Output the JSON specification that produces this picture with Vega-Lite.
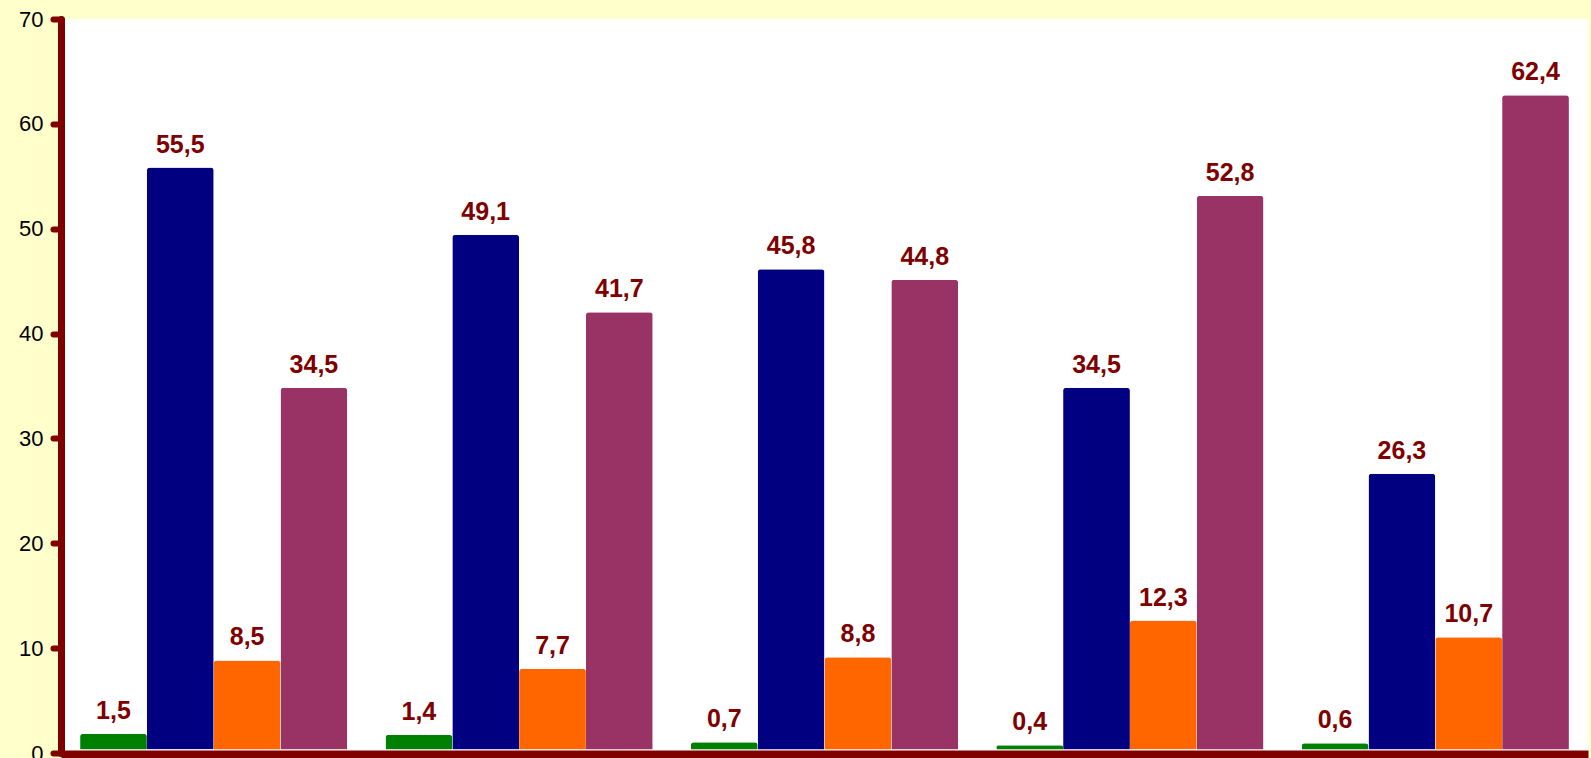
{
  "$schema": "https://vega.github.io/schema/vega-lite/v6.json",
  "autosize": {"type": "none"},
  "width": 1527,
  "height": 734,
  "padding": {"left": 61, "top": 19, "right": 3, "bottom": 5},
  "background": "#FFFFCC",
  "config": {
    "view": {"fill": "#FFFFFF", "stroke": null},
    "locale": {"number": {"decimal": ",", "thousands": ".", "grouping": [3], "currency": ["", ""]}}
  },
  "data": {
    "values": [
      {"group": "A", "series": "s1", "value": 1.5},
      {"group": "A", "series": "s2", "value": 55.5},
      {"group": "A", "series": "s3", "value": 8.5},
      {"group": "A", "series": "s4", "value": 34.5},
      {"group": "B", "series": "s1", "value": 1.4},
      {"group": "B", "series": "s2", "value": 49.1},
      {"group": "B", "series": "s3", "value": 7.7},
      {"group": "B", "series": "s4", "value": 41.7},
      {"group": "C", "series": "s1", "value": 0.7},
      {"group": "C", "series": "s2", "value": 45.8},
      {"group": "C", "series": "s3", "value": 8.8},
      {"group": "C", "series": "s4", "value": 44.8},
      {"group": "D", "series": "s1", "value": 0.4},
      {"group": "D", "series": "s2", "value": 34.5},
      {"group": "D", "series": "s3", "value": 12.3},
      {"group": "D", "series": "s4", "value": 52.8},
      {"group": "E", "series": "s1", "value": 0.6},
      {"group": "E", "series": "s2", "value": 26.3},
      {"group": "E", "series": "s3", "value": 10.7},
      {"group": "E", "series": "s4", "value": 62.4}
    ]
  },
  "encoding": {
    "x": {
      "field": "group", "type": "nominal",
      "scale": {"paddingInner": 0.125, "paddingOuter": 0.0625},
      "axis": {
        "title": null, "labels": false, "domainColor": "#800000", "domainWidth": 8,
        "tickColor": "#000000", "tickWidth": 1, "tickSize": 6, "tickBand": "extent", "offset": 1
      }
    },
    "xOffset": {"field": "series", "type": "nominal", "scale": {"paddingInner": 0, "paddingOuter": 0}}
  },
  "layer": [
    {
      "mark": {"type": "bar", "opacity": 0},
      "encoding": {
        "y": {
          "field": "value", "type": "quantitative",
          "scale": {"domain": [0, 70], "nice": false},
          "axis": {
            "title": null, "values": [0, 10, 20, 30, 40, 50, 60, 70], "grid": false,
            "domainColor": "#800000", "domainWidth": 7, "domainCap": "round",
            "tickColor": "#800000", "tickWidth": 6, "tickSize": 8, "tickCap": "round",
            "labelFont": "Liberation Sans", "labelFontSize": 22, "labelColor": "#000000",
            "labelPadding": 10
          }
        }
      }
    },
    {
      "mark": {"type": "bar", "cornerRadiusTopLeft": 3, "cornerRadiusTopRight": 3},
      "encoding": {
        "y": {
          "field": "value", "type": "quantitative",
          "scale": {"domain": [-0.33, 69.67], "nice": false, "zero": false},
          "axis": null
        },
        "color": {
          "field": "series", "type": "nominal", "legend": null,
          "scale": {"domain": ["s1", "s2", "s3", "s4"], "range": ["#008000", "#000080", "#FF6600", "#993366"]}
        }
      }
    },
    {
      "mark": {"type": "text", "baseline": "alphabetic", "dy": -15, "font": "Liberation Sans", "fontWeight": "bold", "fontSize": 25, "color": "#800000"},
      "encoding": {
        "y": {
          "field": "value", "type": "quantitative",
          "scale": {"domain": [-0.33, 69.67], "nice": false, "zero": false},
          "axis": null
        },
        "text": {"field": "value", "type": "quantitative", "format": ".1f"}
      }
    }
  ],
  "resolve": {"scale": {"y": "independent"}}
}
